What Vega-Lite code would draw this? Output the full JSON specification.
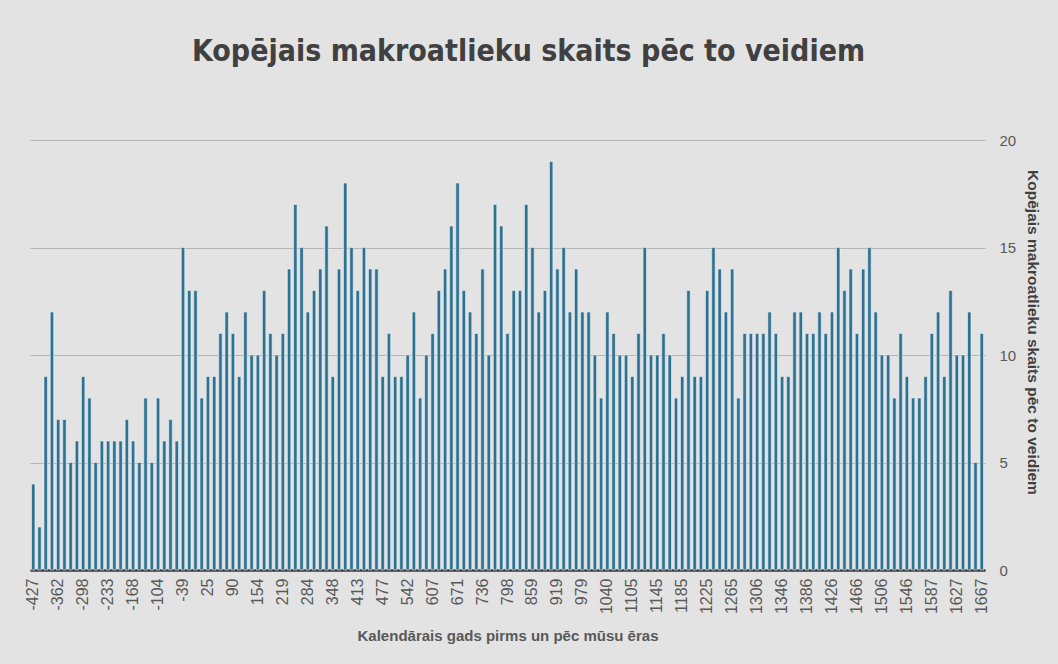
{
  "$schema": "https://vega.github.io/schema/vega-lite/v6.json",
  "width": 955,
  "height": 430,
  "autosize": {"type": "none"},
  "padding": {"left": 30, "top": 140, "right": 73, "bottom": 94},
  "background": "#e3e3e3",
  "title": {
    "text": "Kopējais makroatlieku skaits pēc to veidiem",
    "fontSize": 30,
    "font": "Liberation Sans Narrow, DejaVu Sans Condensed, sans-serif",
    "fontWeight": "bold",
    "color": "#404040",
    "offset": 66,
    "dx": 21
  },
  "data": {
    "values": [
      {"year": "-427", "n": 4}, {"year": "-411", "n": 2}, {"year": "-395", "n": 9}, {"year": "-378", "n": 12},
      {"year": "-362", "n": 7}, {"year": "-346", "n": 7}, {"year": "-330", "n": 5}, {"year": "-314", "n": 6},
      {"year": "-298", "n": 9}, {"year": "-282", "n": 8}, {"year": "-265", "n": 5}, {"year": "-249", "n": 6},
      {"year": "-233", "n": 6}, {"year": "-217", "n": 6}, {"year": "-200", "n": 6}, {"year": "-184", "n": 7},
      {"year": "-168", "n": 6}, {"year": "-152", "n": 5}, {"year": "-136", "n": 8}, {"year": "-120", "n": 5},
      {"year": "-104", "n": 8}, {"year": "-88", "n": 6}, {"year": "-71", "n": 7}, {"year": "-55", "n": 6},
      {"year": "-39", "n": 15}, {"year": "-23", "n": 13}, {"year": "-7", "n": 13}, {"year": "9", "n": 8},
      {"year": "25", "n": 9}, {"year": "41", "n": 9}, {"year": "57", "n": 11}, {"year": "74", "n": 12},
      {"year": "90", "n": 11}, {"year": "106", "n": 9}, {"year": "122", "n": 12}, {"year": "138", "n": 10},
      {"year": "154", "n": 10}, {"year": "170", "n": 13}, {"year": "187", "n": 11}, {"year": "203", "n": 10},
      {"year": "219", "n": 11}, {"year": "235", "n": 14}, {"year": "252", "n": 17}, {"year": "268", "n": 15},
      {"year": "284", "n": 12}, {"year": "300", "n": 13}, {"year": "316", "n": 14}, {"year": "332", "n": 16},
      {"year": "348", "n": 9}, {"year": "364", "n": 14}, {"year": "381", "n": 18}, {"year": "397", "n": 15},
      {"year": "413", "n": 13}, {"year": "429", "n": 15}, {"year": "445", "n": 14}, {"year": "461", "n": 14},
      {"year": "477", "n": 9}, {"year": "493", "n": 11}, {"year": "510", "n": 9}, {"year": "526", "n": 9},
      {"year": "542", "n": 10}, {"year": "558", "n": 12}, {"year": "575", "n": 8}, {"year": "591", "n": 10},
      {"year": "607", "n": 11}, {"year": "623", "n": 13}, {"year": "639", "n": 14}, {"year": "655", "n": 16},
      {"year": "671", "n": 18}, {"year": "687", "n": 13}, {"year": "704", "n": 12}, {"year": "720", "n": 11},
      {"year": "736", "n": 14}, {"year": "751", "n": 10}, {"year": "767", "n": 17}, {"year": "782", "n": 16},
      {"year": "798", "n": 11}, {"year": "813", "n": 13}, {"year": "829", "n": 13}, {"year": "844", "n": 17},
      {"year": "859", "n": 15}, {"year": "874", "n": 12}, {"year": "889", "n": 13}, {"year": "904", "n": 19},
      {"year": "919", "n": 14}, {"year": "934", "n": 15}, {"year": "949", "n": 12}, {"year": "964", "n": 14},
      {"year": "979", "n": 12}, {"year": "994", "n": 12}, {"year": "1010", "n": 10}, {"year": "1025", "n": 8},
      {"year": "1040", "n": 12}, {"year": "1056", "n": 11}, {"year": "1073", "n": 10}, {"year": "1089", "n": 10},
      {"year": "1105", "n": 9}, {"year": "1115", "n": 11}, {"year": "1125", "n": 15}, {"year": "1135", "n": 10},
      {"year": "1145", "n": 10}, {"year": "1155", "n": 11}, {"year": "1165", "n": 10}, {"year": "1175", "n": 8},
      {"year": "1185", "n": 9}, {"year": "1195", "n": 13}, {"year": "1205", "n": 9}, {"year": "1215", "n": 9},
      {"year": "1225", "n": 13}, {"year": "1235", "n": 15}, {"year": "1245", "n": 14}, {"year": "1255", "n": 12},
      {"year": "1265", "n": 14}, {"year": "1275", "n": 8}, {"year": "1285", "n": 11}, {"year": "1296", "n": 11},
      {"year": "1306", "n": 11}, {"year": "1316", "n": 11}, {"year": "1326", "n": 12}, {"year": "1336", "n": 11},
      {"year": "1346", "n": 9}, {"year": "1356", "n": 9}, {"year": "1366", "n": 12}, {"year": "1376", "n": 12},
      {"year": "1386", "n": 11}, {"year": "1396", "n": 11}, {"year": "1406", "n": 12}, {"year": "1416", "n": 11},
      {"year": "1426", "n": 12}, {"year": "1436", "n": 15}, {"year": "1446", "n": 13}, {"year": "1456", "n": 14},
      {"year": "1466", "n": 11}, {"year": "1476", "n": 14}, {"year": "1486", "n": 15}, {"year": "1496", "n": 12},
      {"year": "1506", "n": 10}, {"year": "1516", "n": 10}, {"year": "1526", "n": 8}, {"year": "1536", "n": 11},
      {"year": "1546", "n": 9}, {"year": "1556", "n": 8}, {"year": "1566", "n": 8}, {"year": "1577", "n": 9},
      {"year": "1587", "n": 11}, {"year": "1597", "n": 12}, {"year": "1607", "n": 9}, {"year": "1617", "n": 13},
      {"year": "1627", "n": 10}, {"year": "1637", "n": 10}, {"year": "1647", "n": 12}, {"year": "1657", "n": 5},
      {"year": "1667", "n": 11}
    ]
  },
  "mark": {"type": "bar", "color": "#2f7191", "stroke": "#e6f1f6", "strokeWidth": 0.6},
  "encoding": {
    "x": {
      "field": "year",
      "type": "nominal",
      "sort": null,
      "scale": {"paddingInner": 0.45, "paddingOuter": 0.245},
      "axis": {
        "values": ["-427", "-362", "-298", "-233", "-168", "-104", "-39", "25", "90", "154", "219", "284", "348", "413", "477", "542", "607", "671", "736", "798", "859", "919", "979", "1040", "1105", "1145", "1185", "1225", "1265", "1306", "1346", "1386", "1426", "1466", "1506", "1546", "1587", "1627", "1667"],
        "labelAngle": -90,
        "labelAlign": "right",
        "labelBaseline": "middle",
        "labelFont": "Liberation Sans, Arial, sans-serif",
        "labelFontSize": 16,
        "labelColor": "#595959",
        "labelOverlap": false,
        "ticks": false,
        "labelPadding": 8,
        "domainColor": "#3a3a3a",
        "domainWidth": 2.5,
        "title": "Kalendārais gads pirms un pēc mūsu ēras",
        "titleFont": "Liberation Sans, Arial, sans-serif",
        "titleFontSize": 15,
        "titleFontWeight": "bold",
        "titleColor": "#595959",
        "titlePadding": 15
      }
    },
    "y": {
      "field": "n",
      "type": "quantitative",
      "scale": {"domain": [0, 20]},
      "axis": {
        "orient": "right",
        "values": [0, 5, 10, 15, 20],
        "ticks": false,
        "domain": false,
        "labelPadding": 14,
        "labelFont": "Liberation Sans, Arial, sans-serif",
        "labelFontSize": 15,
        "labelColor": "#595959",
        "gridColor": "#b5b5b5",
        "gridWidth": 1,
        "title": "Kopējais makroatlieku skaits pēc to veidiem",
        "titleFont": "Liberation Sans, Arial, sans-serif",
        "titleFontSize": 15.5,
        "titleFontWeight": "bold",
        "titleColor": "#404040",
        "titleAngle": 90,
        "titlePadding": 9,
        "titleY": 192
      }
    }
  },
  "config": {"view": {"stroke": null}}
}
